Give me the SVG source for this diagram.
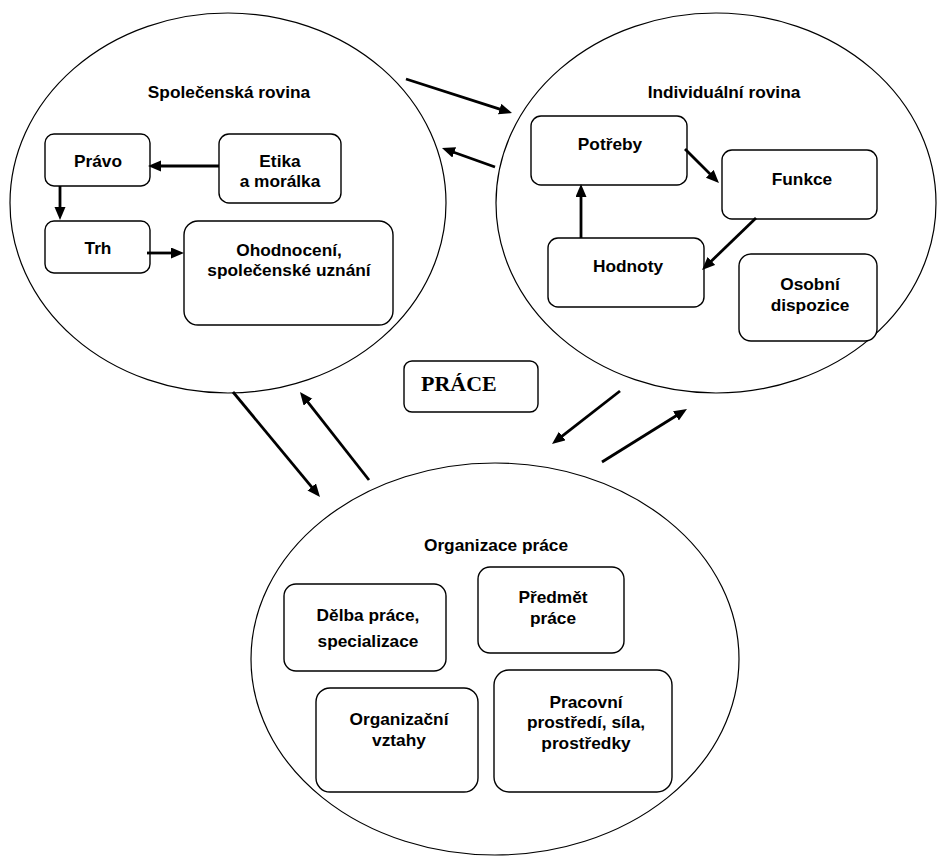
<svg xmlns="http://www.w3.org/2000/svg" width="937" height="857" viewBox="0 0 937 857">
<style>
.bg{fill:#fff}
.circle{fill:none;stroke:#000;stroke-width:1.2}
.box{fill:#fff;stroke:#000;stroke-width:1.4}
.t{font-family:"Liberation Sans",Arial,sans-serif;font-weight:bold;font-size:17.3px;fill:#000;text-anchor:middle}
.title{font-family:"Liberation Serif","Times New Roman",serif;font-weight:bold;font-size:22px;fill:#000}
.conn line{stroke:#000;stroke-width:2.8;fill:none;marker-end:url(#ah)}
</style>
<defs>
<marker id="ah" markerUnits="userSpaceOnUse" markerWidth="14" markerHeight="12" refX="5" refY="5.5" orient="auto">
<path d="M0,0 L13,5.5 L0,11 z" fill="#000"/>
</marker>
</defs>
<rect class="bg" x="0" y="0" width="937" height="857"/>

<g id="spolecenska">
<ellipse class="circle" cx="228" cy="203" rx="218" ry="190"/>
<text class="t" x="229" y="98">Společenská rovina</text>
</g>
<g id="individualni">
<ellipse class="circle" cx="716" cy="203" rx="220" ry="190"/>
<text class="t" x="724" y="98">Individuální rovina</text>
</g>
<g id="organizace">
<ellipse class="circle" cx="495" cy="659" rx="244" ry="196"/>
<text class="t" x="496" y="551">Organizace práce</text>
</g>

<g id="pravo">
<rect class="box" x="45" y="134" width="105" height="52" rx="9"/>
<text class="t" x="98" y="167">Právo</text>
</g>
<g id="etika">
<rect class="box" x="219" y="134" width="122" height="69" rx="10"/>
<text class="t" x="280" y="167">Etika</text>
<text class="t" x="280" y="187">a morálka</text>
</g>
<g id="trh">
<rect class="box" x="45" y="221" width="105" height="52" rx="9"/>
<text class="t" x="98" y="254">Trh</text>
</g>
<g id="ohodnoceni">
<rect class="box" x="184" y="221" width="209" height="104" rx="14"/>
<text class="t" x="289" y="256">Ohodnocení,</text>
<text class="t" x="289" y="276">společenské uznání</text>
</g>

<g id="potreby">
<rect class="box" x="531" y="116" width="156" height="69" rx="10"/>
<text class="t" x="610" y="150">Potřeby</text>
</g>
<g id="funkce">
<rect class="box" x="722" y="150" width="155" height="69" rx="10"/>
<text class="t" x="802" y="185">Funkce</text>
</g>
<g id="hodnoty">
<rect class="box" x="548" y="238" width="156" height="69" rx="10"/>
<text class="t" x="628" y="272">Hodnoty</text>
</g>
<g id="osobni">
<rect class="box" x="739" y="254" width="138" height="87" rx="12"/>
<text class="t" x="810" y="290">Osobní</text>
<text class="t" x="810" y="311">dispozice</text>
</g>

<g id="prace">
<rect class="box" x="404" y="361" width="134" height="51" rx="8"/>
<text class="title" x="421" y="391">PRÁCE</text>
</g>

<g id="delba">
<rect class="box" x="284" y="584" width="162" height="87" rx="12"/>
<text class="t" x="368" y="621">Dělba práce,</text>
<text class="t" x="368" y="647">specializace</text>
</g>
<g id="predmet">
<rect class="box" x="478" y="567" width="146" height="86" rx="12"/>
<text class="t" x="553" y="603">Předmět</text>
<text class="t" x="553" y="624">práce</text>
</g>
<g id="vztahy">
<rect class="box" x="316" y="688" width="162" height="104" rx="14"/>
<text class="t" x="399" y="725">Organizační</text>
<text class="t" x="399" y="746">vztahy</text>
</g>
<g id="pracovni">
<rect class="box" x="494" y="670" width="178" height="122" rx="15"/>
<text class="t" x="586" y="708">Pracovní</text>
<text class="t" x="586" y="728">prostředí, síla,</text>
<text class="t" x="586" y="749">prostředky</text>
</g>

<g id="connectors" class="conn">
<line x1="219" y1="166" x2="156" y2="166"/>
<line x1="60" y1="186" x2="60" y2="212"/>
<line x1="147" y1="253" x2="176" y2="253"/>
<line x1="685" y1="149" x2="713.3" y2="177.3"/>
<line x1="756" y1="218" x2="707.8" y2="264.5"/>
<line x1="581" y1="238" x2="581" y2="192"/>
<line x1="406" y1="79" x2="504.4" y2="110.6"/>
<line x1="495" y1="167" x2="449.5" y2="150.7"/>
<line x1="233" y1="392" x2="314.9" y2="490.8"/>
<line x1="369" y1="480" x2="304.9" y2="398.3"/>
<line x1="620" y1="391" x2="558.3" y2="439.1"/>
<line x1="602" y1="462" x2="680.2" y2="413.2"/>
</g>
</svg>
